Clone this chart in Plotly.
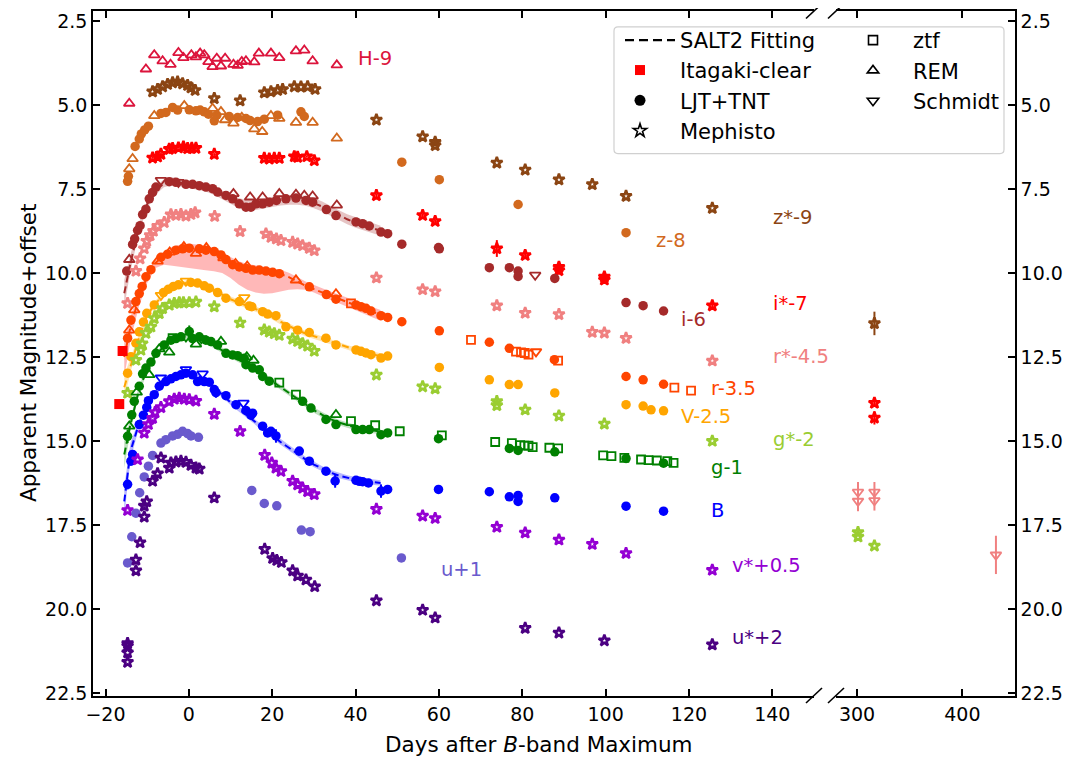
import plotly.graph_objects as go

# ---------------- data ----------------
# H-9 (REM)
H_rem_x = [-14.3,-10.3,-8.3,-6.3,-4.4,-2.5,-1.3,0.6,1.7,2.7,3.7,4.7,5.7,6.7,7.7,8.7,10.7,11.7,12.7,13.7,15.7,16.8,19.7,21.7,25.7,27.7,29.7,35.5]
H_rem_y = [4.95,3.93,3.51,3.69,3.79,3.44,3.59,3.51,3.57,3.46,3.51,3.71,3.86,3.61,3.84,3.61,3.79,3.82,3.71,3.69,3.72,3.46,3.46,3.59,3.39,3.37,3.69,3.81]

# z*-9 (Mephisto)
zs_x = [-8.7,-7.5,-6.3,-5.1,-3.9,-2.7,-1.5,-0.3,0.5,1.5,6.1,12.3,18.1,19.7,21.3,22.5,25.3,26.9,28.5,30.3,45.0,56.1,59.1,59.1,73.9,80.7,88.8,96.8,104.9,125.6]
zs_y = [4.60,4.53,4.45,4.38,4.33,4.31,4.36,4.41,4.48,4.56,4.80,4.87,4.63,4.60,4.56,4.53,4.45,4.46,4.45,4.53,5.44,5.94,6.10,6.20,6.72,6.93,7.22,7.36,7.71,8.07]
zs_late_x = [316.5]
zs_late_y = [11.5]
zs_late_e = [0.35]

# z-8 (LJT + REM)
z_ljt_x = [-14.7,-14.5,-12.9,-11.9,-11.4,-10.6,-9.7,-6.7,-5.5,-3.9,-2.7,0.1,1.7,2.7,3.7,4.7,6.1,6.7,9.7,11.7,13.7,14.7,16.5,18.1,21.3,26.9,27.7,51.1,60.1,79.0,104.9]
z_ljt_y = [7.27,7.12,6.23,6.01,5.86,5.74,5.63,5.25,5.22,5.07,5.15,5.14,5.17,5.15,5.20,5.27,5.47,5.30,5.34,5.37,5.40,5.46,5.49,5.42,5.30,5.20,5.34,6.70,7.22,7.96,8.80]
z_rem_x = [-14.3,-13.5,-8.3,-1.1,5.7,7.7,8.7,10.7,12.7,15.7,17.6,19.7,21.7,25.7,29.7,35.5]
z_rem_y = [6.90,6.60,5.32,5.02,5.10,5.20,5.44,5.54,5.37,5.71,5.79,5.32,5.40,5.52,5.52,5.99]

# i*-7 (Mephisto)
is_x = [-8.7,-7.5,-6.7,-4.7,-3.9,-2.5,-1.3,-0.3,0.7,1.7,6.1,18.1,19.3,20.5,21.7,25.3,26.1,28.3,30.1,45.0,56.1,59.1,73.9,80.7,88.8,88.8,99.7,99.7,125.6]
is_y = [6.57,6.54,6.46,6.31,6.29,6.27,6.24,6.29,6.28,6.28,6.46,6.58,6.60,6.58,6.58,6.53,6.55,6.53,6.65,7.69,8.28,8.46,9.27,9.47,9.82,9.92,10.11,10.20,10.97]
is_e = [0.03,0.03,0.03,0.03,0.03,0.03,0.03,0.03,0.03,0.03,0.03,0.03,0.03,0.03,0.03,0.03,0.03,0.03,0.03,0.05,0.05,0.05,0.25,0.1,0.1,0.1,0.1,0.1,0.08]
is_late_x = [316.5,316.5]
is_late_y = [13.87,14.31]
is_late_e = [0.1,0.2]

# i-6 (LJT + REM + Schmidt)
i_ljt_x = [-14.9,-13.5,-13.0,-12.3,-11.7,-11.1,-10.3,-9.5,-8.7,-7.9,-4.7,-3.1,-0.7,0.9,2.5,4.1,5.7,6.9,8.9,10.5,12.1,13.7,14.9,16.1,17.7,19.3,21.0,23.3,25.7,28.1,29.7,33.0,35.3,40.1,41.7,43.3,46.1,47.7,51.1,59.9,60.1,72.1,76.9,79.0,79.0,87.8,104.9,109.0,113.9]
i_ljt_y = [9.94,9.15,8.98,8.73,8.59,8.26,8.10,7.79,7.60,7.44,7.28,7.30,7.36,7.36,7.40,7.44,7.49,7.59,7.69,7.79,7.94,8.04,8.04,7.94,7.94,7.89,7.84,7.79,7.77,7.84,7.89,8.11,8.29,8.48,8.53,8.60,8.78,8.83,9.14,9.24,9.28,9.84,9.84,9.94,10.10,10.16,10.88,10.97,11.13]
i_rem_x = [-14.3,10.7,14.7,17.7,21.7,25.7,27.7,29.7,35.5]
i_rem_y = [9.60,7.64,7.74,7.74,7.64,7.66,7.69,7.71,7.98]
i_sch_x = [-6.7,-2.5,83.1]
i_sch_y = [7.24,7.30,10.06]

# r*-4.5 (Mephisto + late Schmidt)
rs_x = [-14.7,-12.7,-11.7,-10.7,-10.1,-9.3,-8.5,-7.5,-5.9,-4.3,-3.1,-1.9,-0.7,0.5,1.5,6.2,12.3,18.5,19.7,21.0,22.1,24.9,26.1,27.3,28.9,30.1,45.0,56.1,59.1,73.9,80.7,88.8,96.8,99.7,104.9,125.6]
rs_y = [10.90,9.94,9.57,9.27,9.05,8.88,8.75,8.60,8.49,8.26,8.28,8.25,8.30,8.25,8.20,8.31,8.76,8.83,8.93,8.98,9.03,9.08,9.13,9.18,9.26,9.33,10.14,10.49,10.55,10.97,11.19,11.23,11.76,11.78,11.94,12.61]
rs_late_x = [300.9,300.9,316.5,316.5,431.9]
rs_late_y = [16.52,16.79,16.52,16.77,18.39]
rs_late_e = [0.3,0.3,0.3,0.3,0.57]

# r-3.5 (LJT + REM + ztf + Schmidt)
r_ljt_x = [-14.7,-13.9,-12.7,-11.9,-11.2,-10.3,-9.1,-6.7,-5.1,-3.1,-1.5,0.1,2.5,4.1,6.1,7.7,8.9,10.5,12.1,13.7,15.3,16.9,18.5,20.1,21.7,28.9,33.0,35.3,40.1,41.3,42.5,43.7,46.1,47.7,51.1,60.1,72.1,76.9,87.7,104.9,109.0,113.9]
r_ljt_y = [11.94,11.40,10.85,10.61,10.40,10.11,9.90,9.53,9.44,9.32,9.28,9.26,9.28,9.32,9.36,9.46,9.60,9.75,9.82,9.86,9.91,9.91,9.94,9.98,10.02,10.41,10.64,10.78,10.95,11.00,11.05,11.13,11.27,11.32,11.45,11.72,12.06,12.24,12.58,13.08,13.18,13.31]
r_rem_x = [-14.3,-13.1,-7.5,-4.6,-1.2,1.7,4.2,8.3,11.2,14.0,25.7,35.3]
r_rem_y = [11.70,11.10,9.65,9.38,9.22,9.42,9.25,9.55,9.72,9.80,10.21,10.62]
r_ztf_x = [38.9,67.7,78.5,79.7,80.6,81.5,88.6,116.5,120.5]
r_ztf_y = [10.90,11.99,12.34,12.36,12.38,12.43,12.61,13.41,13.50]
r_sch_x = [83.3]
r_sch_y = [12.34]

# V-2.5 (LJT + Schmidt)
V_ljt_x = [-14.7,-13.9,-12.7,-11.9,-10.9,-10.1,-8.3,-6.1,-4.9,-3.7,-2.5,0.5,2.1,3.7,4.9,6.9,8.9,12.1,14.5,15.1,17.7,18.9,20.9,23.3,26.1,28.9,32.9,35.3,40.1,41.3,42.5,43.7,46.1,47.7,60.1,72.1,76.9,79.0,87.8,104.9,109.0,110.9,113.9]
V_ljt_y = [12.98,12.49,12.09,11.75,11.46,11.20,10.95,10.58,10.48,10.40,10.35,10.28,10.30,10.38,10.45,10.58,10.75,10.85,10.98,11.00,11.15,11.22,11.27,11.60,11.70,11.77,11.94,12.14,12.29,12.33,12.38,12.43,12.53,12.47,12.81,13.18,13.32,13.32,13.57,13.92,13.96,14.07,14.10]
V_sch_x = [-6.7,-0.7,13.3]
V_sch_y = [10.66,10.24,10.73]

# g*-2 (Mephisto)
gs_x = [-14.7,-12.7,-11.5,-11.2,-10.3,-9.1,-8.3,-7.1,-6.3,-4.7,-3.5,-2.3,-1.3,0.1,1.7,6.1,12.3,18.1,19.3,20.5,21.7,24.9,26.1,27.3,28.5,30.1,45.0,56.1,59.1,73.9,73.9,80.7,88.8,99.7,125.6]
gs_y = [13.57,12.59,12.29,12.10,11.79,11.60,11.35,11.20,11.05,10.95,10.90,10.88,10.88,10.88,10.86,11.00,11.48,11.69,11.75,11.80,11.85,11.96,12.03,12.10,12.17,12.32,13.03,13.38,13.44,13.82,13.94,14.07,14.25,14.49,15.00]
gs_late_x = [300.9,300.9,316.5]
gs_late_y = [17.72,17.85,18.12]

# g-1 (LJT + REM + ztf + Schmidt)
g_ljt_x = [-14.7,-13.7,-13.1,-11.9,-11.1,-10.3,-9.1,-7.9,-5.9,-4.3,-3.1,-1.9,0.1,0.9,2.5,4.1,5.3,6.9,8.9,10.5,11.7,13.3,13.7,15.3,16.9,17.7,19.3,27.3,29.3,32.9,35.3,40.1,41.7,43.3,46.1,47.7,59.9,76.9,79.0,87.8,104.9,113.9]
g_ljt_y = [14.86,14.22,13.82,13.37,13.00,12.83,12.65,12.39,12.14,12.00,11.95,11.90,11.74,11.95,11.90,12.00,12.04,12.14,12.39,12.44,12.46,12.54,12.73,12.83,12.88,13.08,13.22,13.82,14.02,14.36,14.51,14.66,14.66,14.66,14.81,14.76,14.93,15.22,15.28,15.32,15.52,15.66]
g_ljt_e = [0.2,0.05,0.05,0.05,0.05,0.05,0.05,0.05,0.05,0.05,0.05,0.05,0.18,0.05,0.05,0.05,0.05,0.05,0.05,0.05,0.05,0.05,0.1,0.05,0.05,0.1,0.1,0.05,0.05,0.05,0.1,0.05,0.05,0.05,0.1,0.05,0.05,0.05,0.05,0.05,0.05,0.05]
g_rem_x = [-14.3,-12.5,-9.5,-7.1,-4.7,1.7,7.7,13.9,15.5,35.3]
g_rem_y = [14.56,13.55,13.03,12.26,12.36,12.12,12.04,12.50,12.60,14.22]
g_ztf_x = [-3.9,21.7,25.7,38.9,44.7,50.6,60.7,73.5,77.5,79.5,80.5,81.5,82.5,86.5,88.6,99.4,101.4,104.5,108.5,110.3,112.3,114.8,116.3]
g_ztf_y = [11.94,13.26,13.62,14.41,14.53,14.71,14.83,15.03,15.06,15.12,15.14,15.14,15.18,15.20,15.22,15.43,15.45,15.50,15.55,15.57,15.58,15.60,15.65]
g_sch_x = [-0.7,3.0]
g_sch_y = [11.90,11.95]

# B (LJT + Schmidt)
B_ljt_x = [-14.7,-13.9,-13.5,-11.9,-10.9,-10.1,-9.7,-8.3,-7.1,-5.5,-4.3,-3.1,-1.9,-0.7,0.9,2.1,3.7,4.9,6.1,6.5,8.9,11.3,13.7,14.9,15.3,17.7,18.9,19.7,20.9,26.5,28.9,32.9,35.1,40.1,40.9,41.7,43.1,46.1,47.7,59.9,72.1,76.9,79.0,79.0,87.8,104.9,113.9]
B_ljt_y = [16.29,15.60,15.40,14.51,14.23,14.00,13.80,13.62,13.37,13.23,13.15,13.08,13.03,12.98,13.03,13.23,13.23,13.25,13.47,13.56,13.65,13.92,14.09,14.23,14.17,14.56,14.76,14.71,14.85,15.30,15.60,15.90,16.19,16.17,16.20,16.21,16.25,16.49,16.44,16.44,16.51,16.66,16.62,16.80,16.69,16.94,17.09]
B_ljt_e = [0.15,0.1,0.05,0.05,0.05,0.05,0.05,0.05,0.05,0.05,0.05,0.05,0.05,0.05,0.05,0.05,0.05,0.05,0.05,0.15,0.05,0.05,0.05,0.1,0.05,0.05,0.1,0.05,0.2,0.05,0.05,0.05,0.2,0.05,0.05,0.05,0.05,0.2,0.05,0.05,0.05,0.05,0.05,0.05,0.05,0.05,0.05]
B_sch_x = [-6.7,-0.7,3.3,13.1]
B_sch_y = [13.12,12.87,13.00,13.87]

# v*+0.5 (Mephisto)
vs_x = [-14.7,-12.3,-10.7,-9.7,-8.7,-8.1,-6.7,-4.7,-3.5,-2.3,-1.1,0.1,1.7,6.1,12.3,18.2,19.9,20.9,22.1,24.9,26.1,27.3,28.5,30.1,45.0,56.1,59.1,73.9,80.7,88.8,96.8,104.9,125.6]
vs_y = [17.06,15.55,14.76,14.50,14.32,14.15,14.00,13.82,13.75,13.72,13.75,13.77,13.81,14.20,14.71,15.42,15.65,15.80,15.90,16.19,16.30,16.40,16.50,16.59,17.03,17.23,17.30,17.56,17.73,17.94,18.07,18.34,18.84]

# u+1 (LJT)
u_ljt_x = [-14.7,-13.7,-12.7,-11.8,-10.7,-9.7,-8.7,-6.7,-5.5,-3.9,-2.7,-1.5,-0.3,0.5,2.3,15.1,18.1,21.1,27.0,29.1,51.0]
u_ljt_y = [18.63,17.85,17.15,16.54,16.07,15.75,15.43,15.06,14.96,14.85,14.80,14.71,14.78,14.85,14.89,16.47,16.86,16.93,17.65,17.70,18.48]

# u*+2 (Mephisto)
us_x = [-14.7,-14.7,-14.7,-14.7,-12.7,-12.7,-11.7,-10.7,-10.7,-10.1,-8.7,-7.5,-6.7,-4.7,-4.3,-3.1,-1.9,-0.7,0.5,1.7,2.5,6.1,18.2,20.1,21.1,22.2,24.9,26.1,28.1,30.2,45.0,56.1,59.1,80.7,88.8,99.7,125.6]
us_y = [21.02,21.10,21.30,21.58,18.54,18.86,18.02,17.26,16.93,16.80,16.19,15.97,15.50,15.80,15.65,15.62,15.60,15.63,15.72,15.80,15.83,16.69,18.22,18.49,18.55,18.61,18.86,19.01,19.13,19.33,19.75,20.03,20.26,20.57,20.71,20.94,21.06]

# Itagaki-clear
it_x = [-15.9,-16.7]
it_y = [12.32,13.90]

# SALT2 model curves (centre and band half-widths)
model_x = [-15.5,-14,-12,-10,-8,-6,-4,-2,0,2,4,6,8,10,12,14,16,18,20,22,24,26,28,30,32,34,36,38,40,42,44,46]
B_model = [16.8,15.3,14.5,13.95,13.55,13.3,13.12,13.02,13.0,13.05,13.2,13.4,13.62,13.85,14.05,14.25,14.45,14.65,14.85,15.03,15.2,15.38,15.55,15.7,15.83,15.94,16.03,16.1,16.15,16.19,16.22,16.25]
B_err = [0.45,0.25,0.12,0.1,0.08,0.08,0.08,0.08,0.08,0.08,0.08,0.08,0.08,0.08,0.08,0.08,0.08,0.08,0.08,0.08,0.08,0.08,0.08,0.08,0.08,0.08,0.08,0.08,0.08,0.08,0.08,0.08]
g_model = [15.4,14.5,13.5,12.85,12.45,12.18,12.02,11.93,11.9,11.93,12.02,12.15,12.3,12.45,12.58,12.72,12.88,13.05,13.22,13.4,13.58,13.75,13.92,14.08,14.22,14.35,14.45,14.53,14.6,14.65,14.69,14.72]
g_err = [0.4,0.2,0.12,0.1,0.08,0.08,0.08,0.08,0.08,0.08,0.08,0.08,0.08,0.08,0.08,0.08,0.08,0.08,0.08,0.08,0.08,0.08,0.08,0.08,0.08,0.08,0.08,0.08,0.08,0.08,0.08,0.08]
V_model = [13.4,12.75,11.95,11.25,10.9,10.65,10.45,10.33,10.28,10.3,10.38,10.5,10.65,10.78,10.88,10.97,11.07,11.18,11.3,11.45,11.58,11.7,11.8,11.88,11.96,12.05,12.14,12.22,12.3,12.36,12.42,12.47]
V_err = [0.35,0.2,0.12,0.1,0.08,0.08,0.08,0.08,0.08,0.08,0.08,0.08,0.08,0.08,0.08,0.08,0.08,0.08,0.08,0.08,0.08,0.08,0.08,0.08,0.08,0.08,0.08,0.08,0.08,0.08,0.08,0.08]
r_model = [12.5,11.6,10.75,10.1,9.7,9.48,9.35,9.28,9.26,9.28,9.32,9.38,9.5,9.65,9.78,9.86,9.9,9.94,9.98,10.03,10.12,10.25,10.38,10.48,10.58,10.68,10.78,10.88,10.96,11.05,11.14,11.25]
r_faint = [13.1,12.0,11.0,10.3,9.85,9.75,9.78,9.82,9.85,9.88,9.92,9.95,10.0,10.15,10.35,10.5,10.58,10.62,10.6,10.55,10.5,10.48,10.5,10.58,10.7,10.8,10.9,11.0,11.1,11.2,11.3,11.42]
r_bright = [12.0,11.3,10.55,9.95,9.58,9.36,9.22,9.15,9.13,9.15,9.19,9.25,9.37,9.52,9.65,9.73,9.77,9.81,9.85,9.9,9.99,10.12,10.25,10.35,10.45,10.55,10.65,10.75,10.83,10.92,11.01,11.1]
i_model = [10.6,9.7,8.65,7.95,7.55,7.33,7.27,7.3,7.35,7.4,7.45,7.55,7.67,7.8,7.92,7.98,7.97,7.93,7.88,7.84,7.82,7.82,7.85,7.92,8.02,8.15,8.28,8.4,8.5,8.58,8.66,8.74]
i_err = [0.4,0.25,0.15,0.12,0.12,0.12,0.12,0.12,0.12,0.12,0.12,0.12,0.13,0.14,0.15,0.15,0.15,0.15,0.15,0.15,0.15,0.15,0.15,0.15,0.15,0.15,0.15,0.15,0.15,0.15,0.15,0.15]

# curve labels
labels = ["H-9", "z*-9", "z-8", "i*-7", "i-6", "r*-4.5", "r-3.5", "V-2.5", "g*-2", "g-1", "B", "v*+0.5", "u+1", "u*+2"]
label_x = [40.2, 139.8, 111.7, 139.8, 117.6, 139.8, 124.9, 117.6, 139.8, 124.9, 124.9, 129.9, 60.1, 129.9]
label_y = [3.62, 8.34, 9.02, 10.92, 11.39, 12.48, 13.43, 14.27, 14.95, 15.78, 17.08, 18.71, 18.83, 20.85]

# ---------------- styling ----------------
C = dict(H="#DC143C", zs="#8B4513", z="#D2691E", istar="#FF0000", i="#A52A2A", rs="#F08080",
         r="#FF4500", V="#FFA500", gs="#9ACD32", g="#008000", B="#0000FF", vs="#9400D3",
         u="#6A5ACD", us="#4B0082")
label_colors = [C["H"], C["zs"], C["z"], C["istar"], C["i"], C["rs"], C["r"], C["V"], C["gs"],
                C["g"], C["B"], C["vs"], C["u"], C["us"]]

FONT = "DejaVu Sans"
OFF = 8                       # page body margin of the browser
W, H = 1076 - OFF, 765 - OFF
ML, MT = 93 - OFF, 1
MR = W - (1015 - OFF)
MB = H - (696 - OFF)
PW, PH = W - ML - MR, H - MT - MB


def px(p):
    """screen pixel (reference) -> paper x"""
    return (p - OFF - ML) / PW


def py(p):
    """screen pixel (reference) -> paper y"""
    return (H - MB - (p - OFF)) / PH


SYM = {"star": ("star-open", 8.5, 2.5), "circle": ("circle", 9.5, 0),
       "tri": ("triangle-up-open", 9.5, 1.8), "tridown": ("triangle-down-open", 9.5, 1.8),
       "square": ("square-open", 8, 1.8), "fsquare": ("square", 10, 0)}
LEGSYM = {"star": ("star-open", 10, 1.6), "circle": ("circle", 11, 0),
          "tri": ("triangle-up-open", 10, 1.6), "tridown": ("triangle-down-open", 10, 1.6),
          "square": ("square-open", 9, 1.6), "fsquare": ("square", 10, 0)}

fig = go.Figure()


def band(yc, err_lo, err_hi, fill):
    lo = [c + e for c, e in zip(yc, err_lo)]
    hi = [c - e for c, e in zip(yc, err_hi)]
    fig.add_trace(go.Scatter(x=model_x + model_x[::-1], y=lo + hi[::-1], fill="toself",
                             fillcolor=fill, line=dict(width=0), mode="lines",
                             showlegend=False, hoverinfo="skip"))


def model_line(yc, color):
    fig.add_trace(go.Scatter(x=model_x, y=yc, mode="lines",
                             line=dict(color=color, width=2, dash="7px,4px"),
                             showlegend=False, hoverinfo="skip"))


def pts(x, y, color, kind, err=None, axis=1):
    sym, size, lw = SYM[kind]
    kw = {}
    if err is not None:
        kw["error_y"] = dict(type="data", array=err, color=color, thickness=2, width=0)
    fig.add_trace(go.Scatter(
        x=x, y=y, mode="markers",
        xaxis="x" if axis == 1 else "x2", yaxis="y" if axis == 1 else "y2",
        marker=dict(symbol=sym, size=size, color=color, line=dict(width=lw, color=color)),
        showlegend=False, hoverinfo="skip", **kw))


# model bands
band(i_model, i_err, i_err, "rgba(165,42,42,0.28)")
r_lo_err = [f - c for f, c in zip(r_faint, r_model)]
r_hi_err = [c - b for c, b in zip(r_model, r_bright)]
band(r_model, r_lo_err, r_hi_err, "rgba(255,0,0,0.28)")
band(V_model, V_err, V_err, "rgba(255,165,0,0.3)")
band(g_model, g_err, g_err, "rgba(0,128,0,0.25)")
band(B_model, B_err, B_err, "rgba(0,0,255,0.28)")
model_line(i_model, C["i"])
model_line(r_model, C["r"])
model_line(V_model, C["V"])
model_line(g_model, C["g"])
model_line(B_model, C["B"])

# data points
pts(H_rem_x, H_rem_y, C["H"], "tri")
pts(zs_x, zs_y, C["zs"], "star")
pts(zs_late_x, zs_late_y, C["zs"], "star", err=zs_late_e, axis=2)
pts(z_ljt_x, z_ljt_y, C["z"], "circle")
pts(z_rem_x, z_rem_y, C["z"], "tri")
pts(is_x, is_y, C["istar"], "star", err=is_e)
pts(is_late_x, is_late_y, C["istar"], "star", err=is_late_e, axis=2)
pts(i_ljt_x, i_ljt_y, C["i"], "circle")
pts(i_rem_x, i_rem_y, C["i"], "tri")
pts(i_sch_x, i_sch_y, C["i"], "tridown")
pts(rs_x, rs_y, C["rs"], "star")
pts(rs_late_x, rs_late_y, C["rs"], "tridown", err=rs_late_e, axis=2)
pts(r_ljt_x, r_ljt_y, C["r"], "circle")
pts(r_rem_x, r_rem_y, C["r"], "tri")
pts(r_ztf_x, r_ztf_y, C["r"], "square")
pts(r_sch_x, r_sch_y, C["r"], "tridown")
pts(V_ljt_x, V_ljt_y, C["V"], "circle")
pts(V_sch_x, V_sch_y, C["V"], "tridown")
pts(gs_x, gs_y, C["gs"], "star")
pts(gs_late_x, gs_late_y, C["gs"], "star", axis=2)
pts(g_ljt_x, g_ljt_y, C["g"], "circle", err=g_ljt_e)
pts(g_rem_x, g_rem_y, C["g"], "tri")
pts(g_ztf_x, g_ztf_y, C["g"], "square")
pts(g_sch_x, g_sch_y, C["g"], "tridown")
pts(B_ljt_x, B_ljt_y, C["B"], "circle", err=B_ljt_e)
pts(B_sch_x, B_sch_y, C["B"], "tridown")
pts(vs_x, vs_y, C["vs"], "star")
pts(u_ljt_x, u_ljt_y, C["u"], "circle")
pts(us_x, us_y, C["us"], "star")
pts(it_x, it_y, "#FF0000", "fsquare")

# legend entries (three Plotly legends build the two-column box)
fig.add_trace(go.Scatter(x=[None], y=[None], mode="lines", name="SALT2 Fitting",
                         legend="legend3", legendgroup="salt2",
                         line=dict(color="black", width=2.4, dash="9px,5px")))
leg1 = [("Itagaki-clear", "fsquare", "#FF0000"), ("LJT+TNT", "circle", "black"),
        ("Mephisto", "star", "black")]
leg2 = [("ztf", "square", "black"), ("REM", "tri", "black"), ("Schmidt", "tridown", "black")]
for lname, entries in (("legend", leg1), ("legend2", leg2)):
    for name, kind, col in entries:
        sym, size, lw = LEGSYM[kind]
        fig.add_trace(go.Scatter(x=[None], y=[None], mode="markers", name=name, legend=lname,
                                 legendgroup=name,
                                 marker=dict(symbol=sym, size=size, color=col,
                                             line=dict(width=lw, color=col))))

# curve labels
for t, x, y, c in zip(labels, label_x, label_y, label_colors):
    fig.add_annotation(x=x, y=y, xref="x", yref="y", text=t, showarrow=False,
                       xanchor="left", yanchor="middle",
                       font=dict(family=FONT, size=19.5, color=c))

axis_common = dict(showgrid=False, zeroline=False, showline=True, linecolor="black",
                   linewidth=1.6, ticks="inside", ticklen=7, tickwidth=1.5, tickcolor="black",
                   tickfont=dict(family=FONT, size=19, color="black"))
xt = [-20, 0, 20, 40, 60, 80, 100, 120, 140]
yt = [2.5, 5.0, 7.5, 10.0, 12.5, 15.0, 17.5, 20.0, 22.5]
ytxt = ["%.1f" % v for v in yt]
XSPLIT0 = px(814)
XSPLIT1 = px(836)

LEGFONT = dict(family=FONT, size=21, color="black")
leg_common = dict(xanchor="left", yanchor="top", bgcolor="rgba(0,0,0,0)", font=LEGFONT,
                  tracegroupgap=0)
fig.update_layout(
    width=W, height=H, margin=dict(l=ML, r=MR, t=MT, b=MB),
    paper_bgcolor="white", plot_bgcolor="white",
    xaxis=dict(domain=[0, XSPLIT0], range=[-23, 150], tickvals=xt,
               ticktext=[str(v).replace("-", "\u2212") for v in xt], mirror="ticks",
               anchor="y", **axis_common),
    xaxis2=dict(domain=[XSPLIT1, 1], range=[280, 450], tickvals=[300, 400],
                ticktext=["300", "400"], mirror="ticks", anchor="y2", **axis_common),
    yaxis=dict(domain=[0, 1], range=[22.59, 2.2], tickvals=yt, ticktext=ytxt, anchor="x",
               side="left", **axis_common),
    yaxis2=dict(domain=[0, 1], range=[22.59, 2.2], tickvals=yt, ticktext=ytxt, anchor="x2",
                side="right", **axis_common),
    legend3=dict(x=px(620), y=py(18), itemwidth=50, **leg_common),
    legend=dict(x=px(600), y=py(48), itemwidth=70, **leg_common),
    legend2=dict(x=px(833), y=py(18), itemwidth=70, **leg_common),
    showlegend=True,
)

# axis titles
fig.add_annotation(x=px(539), y=py(745), xref="paper", yref="paper", showarrow=False,
                   text="Days after <i>B</i>-band Maximum", xanchor="center", yanchor="middle",
                   font=dict(family=FONT, size=21.5, color="black"))
fig.add_annotation(x=px(28), y=py(352), xref="paper", yref="paper", showarrow=False,
                   text="Apparent Magnitude+offset", textangle=-90, xanchor="center",
                   yanchor="middle", font=dict(family=FONT, size=21.5, color="black"))

# legend frame (rounded)
x0, x1, y0, y1 = px(614), px(1004), py(152), py(25)
rx, ry = 4 / PW, 4 / PH
path = (f"M {x0+rx},{y0} L {x1-rx},{y0} Q {x1},{y0} {x1},{y0+ry} L {x1},{y1-ry} "
        f"Q {x1},{y1} {x1-rx},{y1} L {x0+rx},{y1} Q {x0},{y1} {x0},{y1-ry} "
        f"L {x0},{y0+ry} Q {x0},{y0} {x0+rx},{y0} Z")
fig.add_shape(type="path", path=path, xref="paper", yref="paper",
              line=dict(color="#d0d0d0", width=1.2), fillcolor="rgba(255,255,255,0.8)",
              layer="above")

# axis break marks
for cx in (814, 836):
    for cy in (9, 695.5):
        fig.add_shape(type="line", xref="paper", yref="paper",
                      x0=px(cx - 8), y0=py(cy + 7.5), x1=px(cx + 8), y1=py(cy - 7.5),
                      line=dict(color="black", width=1.6))

fig.write_html("out.html")
